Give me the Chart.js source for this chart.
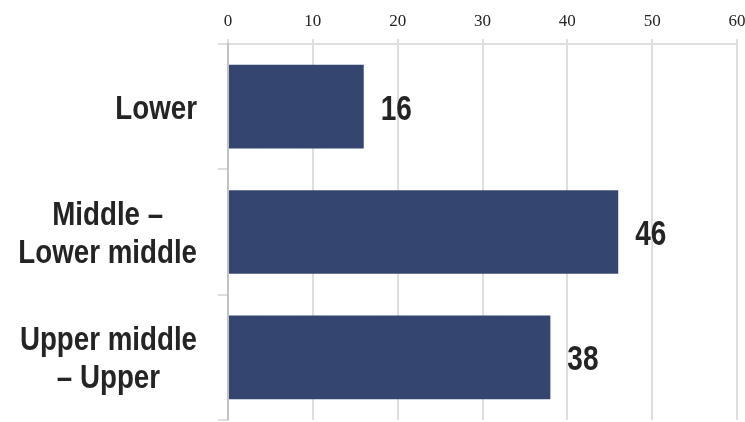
<!DOCTYPE html>
<html>
<head>
<meta charset="utf-8">
<script src="https://cdn.jsdelivr.net/npm/chart.js@4"></script>
<style>
  body { margin: 0; background: #fff; }
</style>
</head>
<body>
<canvas id="chart" width="745" height="422"></canvas>
<script>
// dati del grafico
const categories = [['Lower'], ['Middle –', 'Lower middle'], ['Upper middle', '– Upper']];
const values = [16, 46, 38];
const xMin = 0;
const xMax = 60;
const xStep = 10;

const barColor = 'rgb(52, 70, 111)';
const lineColor = 'rgba(0, 0, 0, 0.13)';
const textColor = '#242424';

// etichette categorie e valori disegnate a mano (font stretto)
const labelPlugin = {
    id: 'narrowLabels',
    afterDraw(chart) {
        const ctx = chart.ctx;
        const yScale = chart.scales.y;
        const xScale = chart.scales.x;
        ctx.save();
        ctx.fillStyle = textColor;
        categories.forEach((lines, i) => {
            const cy = yScale.getPixelForTick(i);
            ctx.font = 'bold 33px "Liberation Sans", Arial, sans-serif';
            const sx = 0.84;
            const widest = Math.max(...lines.map(l => ctx.measureText(l).width)) * sx;
            const cx = yScale.right - 31 - widest / 2;
            lines.forEach((line, j) => {
                const by = cy + 12 + (j - (lines.length - 1) / 2) * 38;
                ctx.save();
                ctx.translate(cx, by);
                ctx.scale(sx, 1);
                ctx.textAlign = 'center';
                ctx.textBaseline = 'alphabetic';
                ctx.fillText(line, 0, 0);
                ctx.restore();
            });

            // valore a destra della barra
            const vx = xScale.getPixelForValue(values[i]) + 17;
            ctx.save();
            ctx.font = 'bold 35px "Liberation Sans", Arial, sans-serif';
            ctx.translate(vx, cy + 13);
            ctx.scale(0.8, 1);
            ctx.textAlign = 'left';
            ctx.textBaseline = 'alphabetic';
            ctx.fillText(String(values[i]), 0, 0);
            ctx.restore();
        });
        ctx.restore();
    }
};

new Chart(document.getElementById('chart'), {
    type: 'bar',
    data: {
        labels: categories,
        datasets: [{
            data: values,
            backgroundColor: barColor,
            borderWidth: 0,
            categoryPercentage: 1,
            barPercentage: 0.667
        }]
    },
    options: {
        indexAxis: 'y',
        responsive: false,
        animation: false,
        layout: { padding: { top: 1, bottom: 2 } },
        plugins: {
            legend: { display: false },
            tooltip: { enabled: false }
        },
        scales: {
            x: {
                position: 'top',
                min: xMin,
                max: xMax,
                z: 1,
                ticks: {
                    stepSize: xStep,
                    color: textColor,
                    padding: 7,
                    font: { family: '"Liberation Serif", serif', size: 17 }
                },
                grid: { color: lineColor, lineWidth: 2, tickLength: 5 },
                border: { color: lineColor, width: 2 },
                afterFit: s => {
                    s.height = 43;
                    s.paddingLeft = 0;
                    s.paddingRight = 8;
                }
            },
            y: {
                ticks: { display: false },
                grid: { drawOnChartArea: false, color: lineColor, lineWidth: 2, tickLength: 10, offset: true },
                border: { color: lineColor, width: 2 },
                afterFit: s => { s.width = 228; }
            }
        }
    },
    plugins: [labelPlugin]
});
</script>
</body>
</html>
